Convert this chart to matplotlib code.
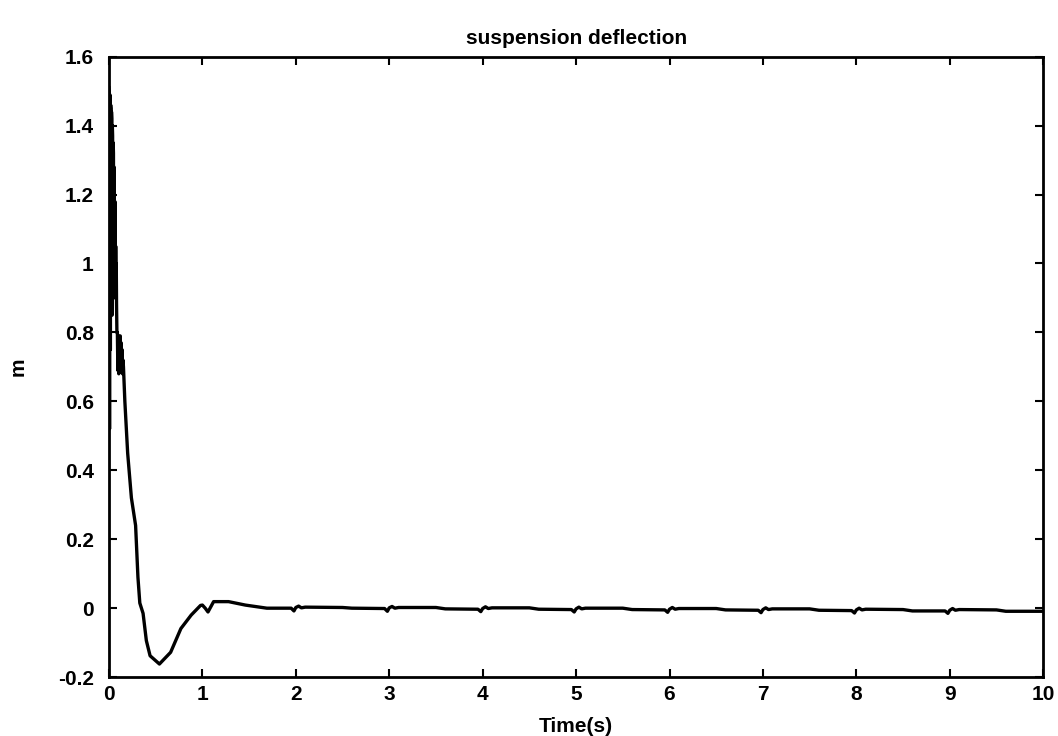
import matplotlib.pyplot as plt

# time (s) and deflection (m)
t_start = [0.0, 0.003, 0.006, 0.009, 0.012, 0.015, 0.018, 0.021, 0.024, 0.027,
           0.030, 0.033, 0.036, 0.039, 0.042, 0.045, 0.048, 0.051, 0.054, 0.057,
           0.060, 0.063, 0.066, 0.069, 0.072, 0.075, 0.078, 0.081, 0.085]
y_start = [1.51, 1.50, 0.52, 1.49, 1.47, 0.75, 1.46, 1.45, 0.95, 1.44,
           1.42, 0.85, 1.40, 1.37, 1.05, 1.35, 1.32, 0.90, 1.28, 1.22,
           1.00, 1.18, 1.10, 0.92, 1.05, 0.97, 1.00, 0.88, 0.80]

t_spikes = [0.09, 0.095, 0.10, 0.105, 0.11, 0.115, 0.12, 0.125, 0.13, 0.135,
            0.14, 0.145, 0.15, 0.155]
y_spikes = [0.80, 0.69, 0.79, 0.68, 0.78, 0.70, 0.79, 0.69, 0.77, 0.70,
            0.75, 0.68, 0.72, 0.70]

t_drop = [0.17, 0.20, 0.24, 0.285, 0.31, 0.33, 0.365, 0.40, 0.44, 0.54, 0.66,
          0.77, 0.88, 0.98, 1.0, 1.03, 1.06, 1.12, 1.28, 1.46, 1.69]
y_drop = [0.60, 0.45, 0.32, 0.24, 0.09, 0.015, -0.015, -0.094, -0.138, -0.162, -0.128,
          -0.059, -0.02, 0.008, 0.009, 0.0, -0.011, 0.019, 0.019, 0.009, 0.0]

t_tail = [1.95, 1.98, 2.0, 2.03, 2.06, 2.1, 2.5, 2.6,
          2.95, 2.98, 3.0, 3.03, 3.06, 3.1, 3.5, 3.6,
          3.95, 3.98, 4.0, 4.03, 4.06, 4.1, 4.5, 4.6,
          4.95, 4.98, 5.0, 5.03, 5.06, 5.1, 5.5, 5.6,
          5.95, 5.98, 6.0, 6.03, 6.06, 6.1, 6.5, 6.6,
          6.95, 6.98, 7.0, 7.03, 7.06, 7.1, 7.5, 7.6,
          7.95, 7.98, 8.0, 8.03, 8.06, 8.1, 8.5, 8.6,
          8.95, 8.98, 9.0, 9.03, 9.06, 9.1, 9.5, 9.6, 10.0]
y_tail = [0.0, -0.008, 0.002, 0.006, 0.001, 0.003, 0.002, 0.0,
          -0.001, -0.009, 0.001, 0.005, 0.0, 0.002, 0.002, -0.002,
          -0.003, -0.010, -0.001, 0.004, -0.001, 0.001, 0.001, -0.003,
          -0.004, -0.011, -0.002, 0.003, -0.002, 0.000, 0.000, -0.004,
          -0.005, -0.012, -0.003, 0.002, -0.003, -0.001, -0.001, -0.005,
          -0.006, -0.013, -0.004, 0.001, -0.004, -0.002, -0.002, -0.006,
          -0.007, -0.014, -0.005, 0.000, -0.005, -0.003, -0.004, -0.008,
          -0.008, -0.015, -0.006, -0.001, -0.006, -0.004, -0.005, -0.009, -0.009]

t = t_start + t_spikes + t_drop + t_tail
y = y_start + y_spikes + y_drop + y_tail

x_ticks = [0, 1, 2, 3, 4, 5, 6, 7, 8, 9, 10]
y_ticks = [-0.2, 0, 0.2, 0.4, 0.6, 0.8, 1, 1.2, 1.4, 1.6]
y_tick_labels = ['-0.2', '0', '0.2', '0.4', '0.6', '0.8', '1', '1.2', '1.4', '1.6']

plt.rcParams['font.family'] = ['Liberation Sans', 'DejaVu Sans']
plt.rcParams['font.weight'] = 'bold'

fig = plt.figure(figsize=(10.58, 7.36), dpi=100)
ax = fig.add_axes([0.103, 0.080, 0.883, 0.843])

ax.plot(t, y, color='black', linewidth=2.4)

ax.set_xlim(0, 10)
ax.set_ylim(-0.2, 1.6)
ax.set_xticks(x_ticks)
ax.set_xticklabels([str(v) for v in x_ticks])
ax.set_yticks(y_ticks)
ax.set_yticklabels(y_tick_labels)
ax.tick_params(direction='in', top=True, right=True, length=6, width=1.5,
               labelsize=15, pad=6)
ax.tick_params(axis='y', pad=11)
for s in ax.spines.values():
    s.set_linewidth(2)

ax.set_title('suspension deflection', fontsize=15, fontweight='bold', pad=9)
ax.set_xlabel('Time(s)', fontsize=15, fontweight='bold', labelpad=9)
ax.set_ylabel('m', fontsize=15, fontweight='bold', labelpad=22)

fig.savefig('out.png', dpi=100)
